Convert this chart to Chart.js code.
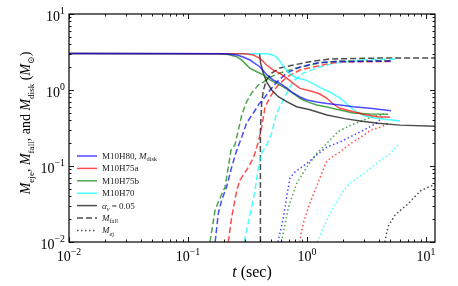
<!DOCTYPE html>
<html><head><meta charset="utf-8">
<script src="https://cdn.jsdelivr.net/npm/chart.js@4/dist/chart.umd.min.js"></script>
<style>html,body{margin:0;padding:0;background:#fff}</style>
</head><body>
<canvas id="c" width="458" height="286"></canvas>
<script>
// ---- tick labels ----
const xTickVals = [0.01, 0.1, 1, 10];
const xTickExp  = ['\u22122', '\u22121', '0', '1'];
const yTickVals = [0.01, 0.1, 1, 10];
const yTickExp  = ['\u22122', '\u22121', '0', '1'];

// ---- disk masses (solid) ----
const h80DiskT = [0.01, 0.205, 0.258, 0.29, 0.332, 0.359, 0.403, 0.461, 0.518, 0.593, 0.679, 0.762, 0.873, 1.0, 1.21, 1.47, 1.89, 2.44, 3.38, 5.08];
const h80DiskM = [3.02, 3.0, 2.89, 2.72, 2.48, 2.27, 2.01, 1.58, 1.36, 1.22, 1.06, 0.914, 0.81, 0.738, 0.695, 0.664, 0.635, 0.603, 0.574, 0.534];
const h75aDiskT = [0.01, 0.301, 0.354, 0.403, 0.458, 0.521, 0.593, 0.675, 0.767, 0.873, 0.993, 1.13, 1.28, 1.47, 1.66, 1.89, 2.45, 3.17, 3.97, 4.98];
const h75aDiskM = [3.02, 3.0, 2.89, 2.61, 2.13, 1.83, 1.66, 1.43, 1.22, 1.05, 1.0, 0.95, 0.885, 0.778, 0.654, 0.574, 0.518, 0.469, 0.445, 0.437];
const h75bDiskT = [0.01, 0.169, 0.217, 0.257, 0.283, 0.301, 0.332, 0.378, 0.43, 0.49, 0.556, 0.632, 0.767, 0.873, 0.993, 1.21, 1.47, 1.89, 2.44, 3.38, 4.80];
const h75bDiskM = [3.02, 3.0, 2.93, 2.74, 2.48, 2.24, 1.93, 1.74, 1.58, 1.36, 1.22, 1.10, 0.905, 0.778, 0.702, 0.635, 0.597, 0.546, 0.498, 0.483, 0.479];
const h70DiskT = [0.01, 0.27, 0.47, 0.54, 0.59, 0.65, 0.72, 0.82, 0.96, 1.10, 1.31, 1.56, 1.89, 2.21, 2.53, 3.07, 3.72, 4.70, 6.05];
const h70DiskM = [3.02, 3.0, 3.0, 2.80, 2.41, 1.95, 1.62, 1.44, 1.36, 1.24, 1.06, 0.94, 0.785, 0.635, 0.53, 0.455, 0.428, 0.409, 0.391];
const alphaDiskT = [0.399, 0.408, 0.43, 0.458, 0.505, 0.574, 0.675, 0.818, 1.06, 1.47, 2.08, 2.79, 3.95, 6.05, 11.9];
const alphaDiskM = [3.02, 2.24, 1.66, 1.28, 1.0, 0.817, 0.702, 0.603, 0.55, 0.47, 0.42, 0.39, 0.365, 0.345, 0.333];

// ---- fallback masses (dashed) ----
const h80FallT = [0.169, 0.18, 0.192, 0.211, 0.233, 0.257, 0.283, 0.311, 0.354, 0.395, 0.444, 0.49, 0.556, 0.676, 0.873, 1.21, 1.65, 5.08];
const h80FallM = [0.01, 0.0241, 0.0357, 0.053, 0.097, 0.162, 0.241, 0.368, 0.498, 0.654, 0.81, 1.0, 1.27, 1.67, 2.01, 2.27, 2.36, 2.40];
const h75aFallT = [0.218, 0.233, 0.257, 0.274, 0.311, 0.354, 0.39, 0.416, 0.444, 0.49, 0.556, 0.676, 0.873, 1.13, 1.56, 1.89, 5.08];
const h75aFallM = [0.01, 0.0213, 0.0483, 0.0655, 0.0886, 0.127, 0.207, 0.326, 0.597, 0.81, 1.10, 1.48, 1.83, 2.01, 2.24, 2.33, 2.38];
const h75bFallT = [0.153, 0.169, 0.186, 0.205, 0.218, 0.23, 0.248, 0.265, 0.283, 0.31, 0.343, 0.39, 0.43, 0.49, 0.59, 0.82, 1.28, 1.89, 5.08];
const h75bFallM = [0.01, 0.0264, 0.038, 0.053, 0.097, 0.162, 0.189, 0.298, 0.469, 0.695, 0.914, 1.16, 1.27, 1.48, 1.67, 1.95, 2.27, 2.41, 2.42];
const h70FallT = [0.296, 0.321, 0.343, 0.366, 0.39, 0.416, 0.458, 0.505, 0.556, 0.593, 0.632, 0.72, 0.79, 0.93, 1.21, 1.66, 2.79, 5.82];
const h70FallM = [0.01, 0.0178, 0.0289, 0.0483, 0.097, 0.148, 0.189, 0.272, 0.498, 0.615, 0.738, 1.10, 1.36, 1.67, 1.95, 2.24, 2.48, 2.56];
const alphaFallT = [0.406, 0.406, 0.416, 0.43, 0.458, 0.505, 0.593, 0.767, 1.06, 1.56, 3.95, 11.9];
const alphaFallM = [0.01, 0.298, 0.675, 1.0, 1.36, 1.67, 1.95, 2.13, 2.36, 2.56, 2.63, 2.64];

// ---- ejecta masses (dotted) ----
const h80EjT = [0.57, 0.628, 0.679, 0.72, 0.79, 0.98, 1.21, 1.47, 1.89, 2.79, 3.87, 4.27];
const h80EjM = [0.01, 0.0195, 0.0415, 0.0695, 0.083, 0.106, 0.140, 0.178, 0.207, 0.28, 0.368, 0.44];
const h75aEjT = [0.865, 0.93, 1.03, 1.17, 1.33, 1.45, 1.62, 1.89, 2.30, 2.84, 3.45, 4.19, 4.80];
const h75aEjM = [0.01, 0.0176, 0.0291, 0.0483, 0.080, 0.113, 0.131, 0.153, 0.195, 0.241, 0.298, 0.326, 0.362];
const h75bEjT = [0.61, 0.70, 0.82, 1.0, 1.21, 1.47, 1.82, 2.34, 3.26, 4.43];
const h75bEjM = [0.01, 0.0291, 0.059, 0.098, 0.147, 0.199, 0.283, 0.346, 0.424, 0.483];
const h70EjT = [1.22, 1.39, 1.62, 1.82, 2.05, 2.34, 2.90, 3.52, 4.19, 4.98, 5.82];
const h70EjM = [0.01, 0.0163, 0.0264, 0.0357, 0.0483, 0.0615, 0.076, 0.097, 0.12, 0.144, 0.189];
const alphaEjT = [4.5, 4.8, 5.5, 7.1, 9.1, 11.5, 11.9];
const alphaEjM = [0.01, 0.016, 0.0227, 0.032, 0.048, 0.056, 0.058];

const BLUE = 'rgba(0,0,255,0.7)', RED = 'rgba(255,0,0,0.7)', GREEN = 'rgba(0,128,0,0.7)',
      CYAN = 'rgba(0,255,255,0.7)', BLACK = 'rgba(0,0,0,0.7)';
const DASH = [6, 3], DOT = [1.5, 2.5];
const FONT = '"Liberation Serif","DejaVu Serif",serif';

function pts(t, m) { return t.map((v, i) => ({x: v, y: m[i]})); }
function ds(t, m, color, dash) {
  return {data: pts(t, m), borderColor: color, borderWidth: 1.5, borderDash: dash || [],
          pointRadius: 0, fill: false, tension: 0};
}

function richWidth(ctx, segs, S, k) {
  let w = 0;
  for (const s of segs) {
    const sz = (s.sub || s.sup) ? S * k : S;
    ctx.font = (s.it ? 'italic ' : '') + sz + 'px ' + FONT;
    w += ctx.measureText(s.t).width;
  }
  return w;
}
function rich(ctx, segs, x, y, S, align, k) {
  k = k || 0.7;
  const w = richWidth(ctx, segs, S, k);
  let cx = align === 'center' ? x - w / 2 : (align === 'right' ? x - w : x);
  ctx.textAlign = 'left'; ctx.textBaseline = 'alphabetic';
  for (const s of segs) {
    const sz = (s.sub || s.sup) ? S * k : S;
    ctx.font = (s.it ? 'italic ' : '') + sz + 'px ' + FONT;
    const dy = s.sub ? S * 0.25 : (s.sup ? -S * 0.45 : 0);
    ctx.fillText(s.t, cx, y + dy);
    cx += ctx.measureText(s.t).width;
  }
}

const decor = {
  id: 'decor',
  afterDraw(chart) {
    const ctx = chart.ctx, a = chart.chartArea, xs = chart.scales.x, ys = chart.scales.y;
    ctx.save();
    ctx.fillStyle = '#000'; ctx.strokeStyle = '#000';
    const line = (x1, y1, x2, y2) => { ctx.beginPath(); ctx.moveTo(x1, y1); ctx.lineTo(x2, y2); ctx.stroke(); };
    // ticks
    ctx.lineWidth = 0.9;
    for (let d = -2; d <= 1; d++) for (let m = 1; m <= 9; m++) {
      const v = m * Math.pow(10, d);
      if (v > xs.max * 1.0001 || v < xs.min * 0.9999) continue;
      const px = Math.round(xs.getPixelForValue(v)) + 0.5, L = m === 1 ? 5 : 2.5;
      line(px, a.bottom, px, a.bottom - L); line(px, a.top, px, a.top + L);
    }
    for (let d = -2; d <= 1; d++) for (let m = 1; m <= 9; m++) {
      const v = m * Math.pow(10, d);
      if (v > ys.max * 1.0001 || v < ys.min * 0.9999) continue;
      const py = Math.round(ys.getPixelForValue(v)) + 0.5, L = m === 1 ? 5 : 2.5;
      line(a.left, py, a.left + L, py); line(a.right, py, a.right - L, py);
    }
    // frame
    ctx.lineWidth = 1.2;
    ctx.strokeRect(a.left, a.top, a.right - a.left, a.bottom - a.top);
    // tick labels
    xTickVals.forEach((v, i) => {
      const px = xs.getPixelForValue(v);
      rich(ctx, [{t: '10'}, {t: xTickExp[i], sup: true}], px, 261, 14, 'center');
    });
    yTickVals.forEach((v, i) => {
      const py = ys.getPixelForValue(v);
      rich(ctx, [{t: '10'}, {t: yTickExp[i], sup: true}], a.left - 4, py + 6.5, 14, 'right');
    });
    // axis titles
    rich(ctx, [{t: 't', it: true}, {t: ' (sec)'}], (a.left + a.right) / 2, 277, 16, 'center');
    ctx.save();
    ctx.translate(30, 123);
    ctx.rotate(-Math.PI / 2);
    rich(ctx, [{t: 'M', it: true}, {t: 'eje', sub: true}, {t: ', '}, {t: 'M', it: true}, {t: 'fall', sub: true},
               {t: ', and '}, {t: 'M', it: true}, {t: 'disk', sub: true}, {t: ' ('}, {t: 'M', it: true},
               {t: '\u2299', sub: true}, {t: ')'}], 0, 0, 14, 'center', 0.65);
    ctx.restore();
    // legend
    const items = [
      [BLUE, [], [{t: 'M10H80, '}, {t: 'M', it: true}, {t: 'disk', sub: true}]],
      [RED, [], [{t: 'M10H75a'}]],
      [GREEN, [], [{t: 'M10H75b'}]],
      [CYAN, [], [{t: 'M10H70'}]],
      [BLACK, [], [{t: '\u03b1', it: true}, {t: '\u03bd', it: true, sub: true}, {t: ' = 0.05'}]],
      [BLACK, DASH, [{t: 'M', it: true}, {t: 'fall', sub: true}]],
      [BLACK, DOT, [{t: 'M', it: true}, {t: 'ej', sub: true}]]
    ];
    items.forEach((it, i) => {
      const cy = 156 + i * 12.4;
      ctx.strokeStyle = it[0]; ctx.lineWidth = 1.5; ctx.setLineDash(it[1]);
      line(77, cy, 97, cy);
      ctx.setLineDash([]);
      ctx.fillStyle = '#222';
      rich(ctx, it[2], 102, cy + 3, 9, 'left');
    });
    ctx.restore();
  }
};

new Chart(document.getElementById('c'), {
  type: 'line',
  data: {datasets: [
    ds(h80DiskT, h80DiskM, BLUE), ds(h75aDiskT, h75aDiskM, RED), ds(h75bDiskT, h75bDiskM, GREEN), ds(h70DiskT, h70DiskM, CYAN),
    ds(alphaDiskT, alphaDiskM, BLACK),
    ds(h80FallT, h80FallM, BLUE, DASH), ds(h75aFallT, h75aFallM, RED, DASH), ds(h75bFallT, h75bFallM, GREEN, DASH), ds(h70FallT, h70FallM, CYAN, DASH),
    ds(alphaFallT, alphaFallM, BLACK, DASH),
    ds(h80EjT, h80EjM, BLUE, DOT), ds(h75aEjT, h75aEjM, RED, DOT), ds(h75bEjT, h75bEjM, GREEN, DOT), ds(h70EjT, h70EjM, CYAN, DOT),
    ds(alphaEjT, alphaEjM, BLACK, DOT)
  ]},
  options: {
    responsive: false, animation: false,
    layout: {padding: {left: 69, right: 23, top: 14, bottom: 44}},
    scales: {
      x: {type: 'logarithmic', min: 0.01, max: 11.9, display: false},
      y: {type: 'logarithmic', min: 0.01, max: 10, display: false}
    },
    plugins: {legend: {display: false}, tooltip: {enabled: false}},
    elements: {point: {radius: 0}, line: {tension: 0}}
  },
  plugins: [decor]
});
</script>
</body></html>
